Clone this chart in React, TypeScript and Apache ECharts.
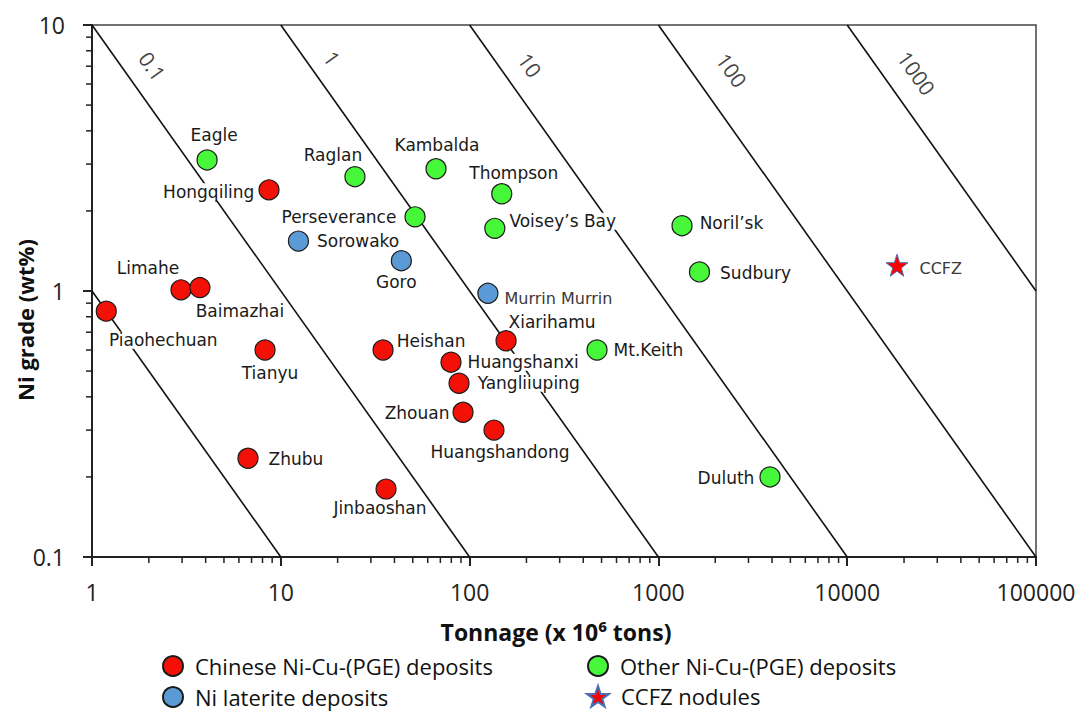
import React, { useEffect, useRef } from 'react';
import * as echarts from 'echarts';

// ---------- data (tonnage in Mt, Ni grade in wt%) ----------
const chineseNames = ['Hongqiling', 'Limahe', 'Baimazhai', 'Piaohechuan', 'Tianyu', 'Heishan', 'Xiarihamu', 'Huangshanxi', 'Yangliiuping', 'Zhouan', 'Huangshandong', 'Zhubu', 'Jinbaoshan'];
const chineseTonnage = [8.66, 2.96, 3.73, 1.19, 8.25, 34.8, 156, 79.7, 87.9, 92.3, 134.6, 6.7, 36.1];
const chineseGrade = [2.4, 1.01, 1.03, 0.84, 0.6, 0.6, 0.65, 0.54, 0.45, 0.35, 0.3, 0.235, 0.18];

const otherNames = ['Eagle', 'Raglan', 'Kambalda', 'Thompson', 'Perseverance', 'Voisey\u2019s Bay', 'Noril\u2019sk', 'Sudbury', 'Mt.Keith', 'Duluth'];
const otherTonnage = [4.07, 24.7, 66.4, 148, 51.4, 136, 1334, 1650, 473, 3900];
const otherGrade = [3.11, 2.69, 2.88, 2.32, 1.9, 1.72, 1.76, 1.18, 0.6, 0.2];

const lateriteNames = ['Sorowako', 'Goro', 'Murrin Murrin'];
const lateriteTonnage = [12.4, 43.5, 125];
const lateriteGrade = [1.54, 1.3, 0.98];

const ccfzNames = ['CCFZ'];
const ccfzTonnage = [18360];
const ccfzGrade = [1.25];

// contained-Ni contours (Mt Ni)
const contourValues = [0.01, 0.1, 1, 10, 100, 1000];
const contourLabelText = ['', '0.1', '1', '10', '100', '1000'];

const seriesNames = ['Chinese Ni-Cu-(PGE) deposits', 'Ni laterite deposits', 'Other Ni-Cu-(PGE) deposits', 'CCFZ nodules'];

const X_MIN = 1, X_MAX = 100000, Y_MIN = 0.1, Y_MAX = 10;
const CONTOUR_LABEL_GRADE = 7;

// ---------- presentation ----------
const labelPlacement: Record<string, { position: string; offset: [number, number] }> = {
  Hongqiling: { position: 'left', offset: [2, 2] },
  Perseverance: { position: 'left', offset: [-2, 0] },
  Zhouan: { position: 'left', offset: [3, 1] },
  Duluth: { position: 'left', offset: [1, 1] },
  Sorowako: { position: 'right', offset: [2, 0] },
  'Voisey\u2019s Bay': { position: 'right', offset: [-2, -7] },
  'Noril\u2019sk': { position: 'right', offset: [1, -3] },
  Sudbury: { position: 'right', offset: [4, 1] },
  CCFZ: { position: 'right', offset: [5, 3] },
  Zhubu: { position: 'right', offset: [4, 1] },
  Huangshanxi: { position: 'right', offset: [0, 0] },
  Yangliiuping: { position: 'right', offset: [2, 0] },
  'Mt.Keith': { position: 'right', offset: [0, 0] },
  'Murrin Murrin': { position: 'right', offset: [0, 5] },
  Heishan: { position: 'right', offset: [-3, -9] },
  Eagle: { position: 'top', offset: [7, -1] },
  Raglan: { position: 'top', offset: [-22, 2] },
  Kambalda: { position: 'top', offset: [1, 0] },
  Thompson: { position: 'top', offset: [12, 3] },
  Limahe: { position: 'top', offset: [-33, 2] },
  Xiarihamu: { position: 'top', offset: [46, 5] },
  Goro: { position: 'bottom', offset: [-5, -3] },
  Baimazhai: { position: 'bottom', offset: [40, -1] },
  Piaohechuan: { position: 'bottom', offset: [57, 5] },
  Tianyu: { position: 'bottom', offset: [5, -1] },
  Jinbaoshan: { position: 'bottom', offset: [-6, -5] },
  Huangshandong: { position: 'bottom', offset: [6, -2] },
};
// screen-space offsets of the contour labels from their anchor on the line
const contourLabelOffset: [number, number][] = [[0, 0], [31, 0], [22, -8], [31, -1], [44, 4], [40, 7]];
const CONTOUR_ROT_DEG = -54.7;

// legend slot for each series: [left, top]
const legendSlots: [number, number][] = [[162, 655], [162, 686], [587, 655], [586, 685]];

const STAR = 'path://M50,0 L61.8,35.1 L98.1,35.1 L68.8,56.7 L79.4,91 L50,70 L20.6,91 L31.2,56.7 L1.9,35.1 L38.2,35.1 Z';
const LABEL_FONT = 'DejaVu Sans';
const AXIS_FONT = 'Open Sans';

function pointData(names: string[], xs: number[], ys: number[], plainNames: string[] = []) {
  return names.map((n, i) => {
    const p = labelPlacement[n] || { position: 'right', offset: [0, 0] };
    const plain = plainNames.includes(n);
    return {
      name: n,
      value: [xs[i], ys[i]],
      label: {
        show: true,
        position: p.position,
        offset: p.offset,
        distance: 5,
        formatter: '{b}',
        fontFamily: LABEL_FONT,
        fontSize: plain ? 16 : 17,
        color: plain ? '#3a3a3a' : '#1a1a1a',
        backgroundColor: plain ? 'transparent' : '#ffffff',
        padding: [0, 1],
      },
    };
  });
}

function minorTicks(lo: number, hi: number) {
  const out: number[] = [];
  for (let d = lo; d < hi; d *= 10) {
    for (let m = 2; m <= 9; m++) out.push(Number((m * d).toPrecision(6)));
  }
  return out;
}

// convert a screen offset into the rotated label frame
function toLocal([dx, dy]: [number, number]): [number, number] {
  const a = (-CONTOUR_ROT_DEG * Math.PI) / 180;
  const c = Math.cos(a), s = Math.sin(a);
  return [c * dx + s * dy, -s * dx + c * dy];
}

const fmt = (v: number) => String(Number(v.toPrecision(6)));

export default function App() {
  const ref = useRef<HTMLDivElement>(null);
  useEffect(() => {
    if (!ref.current) return;
    const chart = echarts.init(ref.current, undefined, { renderer: 'svg' });

    const contourLines = contourValues.map((m) => {
      const t0 = Math.max(X_MIN, (100 * m) / Y_MAX);
      const t1 = Math.min(X_MAX, (100 * m) / Y_MIN);
      return {
        type: 'line',
        data: [[t0, (100 * m) / t0], [t1, (100 * m) / t1]],
        symbol: 'none',
        silent: true,
        z: 1,
        lineStyle: { color: '#111', width: 1.6 },
      };
    });

    const contourLabelData = contourValues
      .map((m, i) => ({ m, i }))
      .filter(({ i }) => contourLabelText[i] !== '')
      .map(({ m, i }) => ({
        name: contourLabelText[i],
        value: [(100 * m) / CONTOUR_LABEL_GRADE, CONTOUR_LABEL_GRADE],
        label: { offset: toLocal(contourLabelOffset[i]) },
      }));

    const tickSeries = (vals: number[], axis: 'x' | 'y') => ({
      type: 'custom',
      coordinateSystem: 'cartesian2d',
      silent: true,
      clip: false,
      z: 4,
      data: vals.map((v) => (axis === 'x' ? [v, Y_MIN] : [X_MIN, v])),
      renderItem: (_p: any, api: any) => {
        const pt = api.coord([api.value(0), api.value(1)]);
        const shape = axis === 'x'
          ? { x1: pt[0], y1: pt[1], x2: pt[0], y2: pt[1] + 6 }
          : { x1: pt[0], y1: pt[1], x2: pt[0] - 6, y2: pt[1] };
        return { type: 'line', shape, style: { stroke: '#222', lineWidth: 1.5 } };
      },
    });

    const legends = seriesNames.map((name, i) => ({
      left: legendSlots[i][0],
      top: legendSlots[i][1],
      padding: 0,
      itemWidth: i === 3 ? 22 : 20,
      itemHeight: i === 3 ? 22 : 20,
      selectedMode: false,
      data: [name],
      textStyle: { fontFamily: AXIS_FONT, fontSize: 22, lineHeight: 22, color: '#111', padding: [0, 0, 0, 7] },
    }));

    const option: any = {
      animation: false,
      backgroundColor: '#ffffff',
      grid: { left: 92, right: 54, top: 25, bottom: 156, show: true, borderColor: '#444', borderWidth: 1.5 },
      xAxis: {
        type: 'log', logBase: 10, min: X_MIN, max: X_MAX,
        axisLine: { show: true, lineStyle: { color: '#222', width: 2 } },
        axisTick: { show: true, inside: false, length: 9, lineStyle: { color: '#222', width: 2 } },
        splitLine: { show: false },
        axisLabel: { fontFamily: AXIS_FONT, fontSize: 23, color: '#222', margin: 23, formatter: fmt },
      },
      yAxis: {
        type: 'log', logBase: 10, min: Y_MIN, max: Y_MAX,
        axisLine: { show: true, lineStyle: { color: '#222', width: 2 } },
        axisTick: { show: true, inside: false, length: 9, lineStyle: { color: '#222', width: 2 } },
        splitLine: { show: false },
        axisLabel: { fontFamily: AXIS_FONT, fontSize: 23, color: '#222', margin: 27, formatter: fmt },
      },
      legend: legends,
      graphic: [
        {
          type: 'text', x: 556, y: 632,
          style: { text: 'Tonnage (x 10\u2076 tons)', font: `bold 23px "${AXIS_FONT}"`, fill: '#111', align: 'center', verticalAlign: 'middle' },
        },
        {
          type: 'text', x: 25, y: 320, rotation: Math.PI / 2,
          style: { text: 'Ni grade (wt%)', font: `bold 22px "${AXIS_FONT}"`, fill: '#111', align: 'center', verticalAlign: 'middle' },
        },
      ],
      series: [
        ...contourLines,
        {
          type: 'scatter',
          silent: true,
          z: 2,
          symbolSize: 1,
          itemStyle: { color: 'rgba(0,0,0,0)' },
          data: contourLabelData,
          label: {
            show: true, position: 'inside', formatter: '{b}', rotate: CONTOUR_ROT_DEG,
            fontFamily: AXIS_FONT, fontSize: 21, color: '#111',
          },
        },
        tickSeries(minorTicks(X_MIN, X_MAX), 'x'),
        tickSeries(minorTicks(Y_MIN, Y_MAX), 'y'),
        {
          name: seriesNames[0], type: 'scatter', z: 3, symbol: 'circle', symbolSize: 20,
          itemStyle: { color: '#f21007', borderColor: '#1a1a1a', borderWidth: 1.2, opacity: 1 },
          data: pointData(chineseNames, chineseTonnage, chineseGrade),
        },
        {
          name: seriesNames[1], type: 'scatter', z: 3, symbol: 'circle', symbolSize: 20,
          itemStyle: { color: '#5b9bd5', borderColor: '#1a1a1a', borderWidth: 1.2, opacity: 1 },
          data: pointData(lateriteNames, lateriteTonnage, lateriteGrade, ['Murrin Murrin']),
        },
        {
          name: seriesNames[2], type: 'scatter', z: 3, symbol: 'circle', symbolSize: 20,
          itemStyle: { color: '#47f83a', borderColor: '#1a1a1a', borderWidth: 1.2, opacity: 1 },
          data: pointData(otherNames, otherTonnage, otherGrade),
        },
        {
          name: seriesNames[3], type: 'scatter', z: 3, symbol: STAR, symbolSize: 22,
          itemStyle: { color: '#ff0000', borderColor: '#4a6fb5', borderWidth: 1, opacity: 1 },
          data: pointData(ccfzNames, ccfzTonnage, ccfzGrade, ['CCFZ']),
        },
      ],
    };

    chart.setOption(option);
    return () => chart.dispose();
  }, []);

  return <div ref={ref} style={{ position: 'absolute', left: 0, top: 0, width: 1090, height: 713 }} />;
}
